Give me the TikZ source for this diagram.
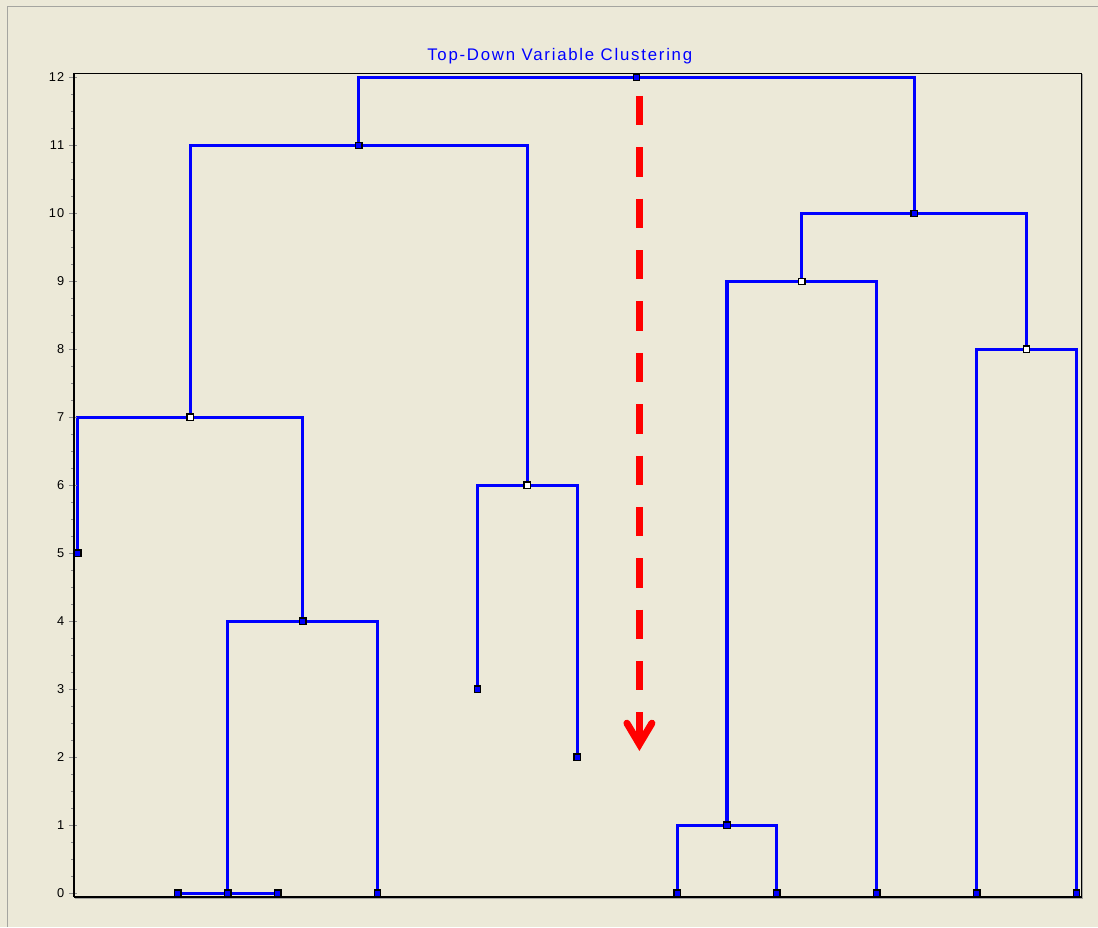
\documentclass[tikz,border=0pt]{standalone}
\usepackage{fontspec}
\setmainfont{Liberation Sans}
\newfontfamily\titlefont[LetterSpace=10.5]{Liberation Sans}
\newfontfamily\tickfont[LetterSpace=8]{Liberation Sans}
\usetikzlibrary{calc}
\pgfdeclarelayer{bgl}
\pgfdeclarelayer{back}
\pgfsetlayers{bgl,back,main}
\definecolor{panel}{RGB}{236,233,216}
\definecolor{linkblue}{RGB}{0,0,255}
\definecolor{tickgray}{RGB}{140,140,140}
\definecolor{bordergray}{RGB}{165,165,160}
\begin{document}
\begin{tikzpicture}[x=0.75pt,y=-0.75pt,
  link/.style={draw=linkblue, line width=2.3pt, line join=miter},
  fullmark/.style={rectangle, draw=black, fill=linkblue, line width=1pt, minimum size=4.8pt, inner sep=0pt},
  openmark/.style={rectangle, draw=black, fill=white, line width=1pt, minimum size=4.8pt, inner sep=0pt},
  ticklabel/.style={font=\tickfont\fontsize{9.6}{11}\selectfont, text=black, inner sep=0pt, anchor=east},
  titletext/.style={font=\titlefont\fontsize{12.6}{14}\selectfont, text=linkblue, inner sep=0pt},
  arrowline/.style={draw=red, line width=5.25pt}
]
\begin{pgfonlayer}{bgl}
\fill[panel] (0,0) rectangle (1098,927);
\draw[bordergray, line width=0.75pt] (7.5,927) -- (7.5,6.5) -- (1098,6.5);
\end{pgfonlayer}
\useasboundingbox (0,0) rectangle (1098,927);

% title
\node[titletext] (title) at (560,56) {Top-Down Variable Clustering};

% ticks and labels
\foreach \v in {0,...,12} {
  \draw[tickgray, line width=0.75pt] (69,{893.5-68*\v}) -- (77,{893.5-68*\v});
  \node[ticklabel] (t\v) at (64.5,{893.5-68*\v}) {\v};
}
\foreach \v in {0,...,11} {
  \foreach \q in {1,2,3} {
    \draw[tickgray, line width=0.75pt] (71.5,{893.5-68*(\v+\q/4)}) -- (73,{893.5-68*(\v+\q/4)});
  }
}

% frame
\draw[bordergray, line width=0.75pt] (75,898.4) -- (1083.4,898.4) -- (1083.4,74.5);
\draw[black, line width=0.9pt] (74,897.3) -- (1082.3,897.3) -- (1082.3,73.3) -- (74,73.3);
\draw[black, line width=2pt] (74,72.8) -- (74,897.8);

% dendrogram
\begin{scope}[shift={(78,893.5)}, x=74.925pt, y=51pt]
  \node[fullmark] (L0) at (0,5) {};
  \node[fullmark] (L1) at (1,0) {};
  \node[fullmark] (L2) at (2,0) {};
  \node[fullmark] (L3) at (3,0) {};
  \node[fullmark] (L4) at (4,3) {};
  \node[fullmark] (L5) at (5,2) {};
  \node[fullmark] (L6) at (6,0) {};
  \node[fullmark] (L7) at (7,0) {};
  \node[fullmark] (L8) at (8,0) {};
  \node[fullmark] (L9) at (9,0) {};
  \node[fullmark] (L10) at (10,0) {};
  \node[fullmark] (N0) at (1.5,0) {};
  \node[fullmark] (N1) at (6.5,1) {};
  \node[fullmark] (N4) at (2.25,4) {};
  \node[openmark] (N6) at (4.5,6) {};
  \node[openmark] (N7) at (1.125,7) {};
  \node[openmark] (N8) at (9.5,8) {};
  \node[openmark] (N9) at (7.25,9) {};
  \node[fullmark] (N10) at (8.375,10) {};
  \node[fullmark] (N11) at (2.8125,11) {};
  \node[fullmark] (N12) at (5.59375,12) {};
  \begin{pgfonlayer}{back}
    \draw[link] (N11.center) |- (N12.center) -| (N10.center);
    \draw[link] (N7.center) |- (N11.center) -| (N6.center);
    \draw[link] (L0.center) |- (N7.center) -| (N4.center);
    \draw[link] (N0.center) |- (N4.center) -| (L3.center);
    \draw[link] (L1.center) -- (N0.center) -- (L2.center);
    \draw[link] (L4.center) |- (N6.center) -| (L5.center);
    \draw[link] (N9.center) |- (N10.center) -| (N8.center);
    \draw[link] (N1.center) |- (N9.center) -| (L8.center);
    \draw[link] (L6.center) |- (N1.center) -| (L7.center);
    \draw[link] (L9.center) |- (N8.center) -| (L10.center);
  \end{pgfonlayer}
\end{scope}

% red dashed arrow
\coordinate (ArrTop) at (639.7,96);
\coordinate (ArrEnd) at (639.7,744.5);
\draw[arrowline, dash pattern=on 22pt off 16.55pt] (ArrTop) -- (ArrEnd);
\draw[arrowline, line cap=round, line join=miter]
  ([shift={(-12.5,-21)}]ArrEnd) -- (ArrEnd) -- ([shift={(12.5,-21)}]ArrEnd);
\end{tikzpicture}
\end{document}
